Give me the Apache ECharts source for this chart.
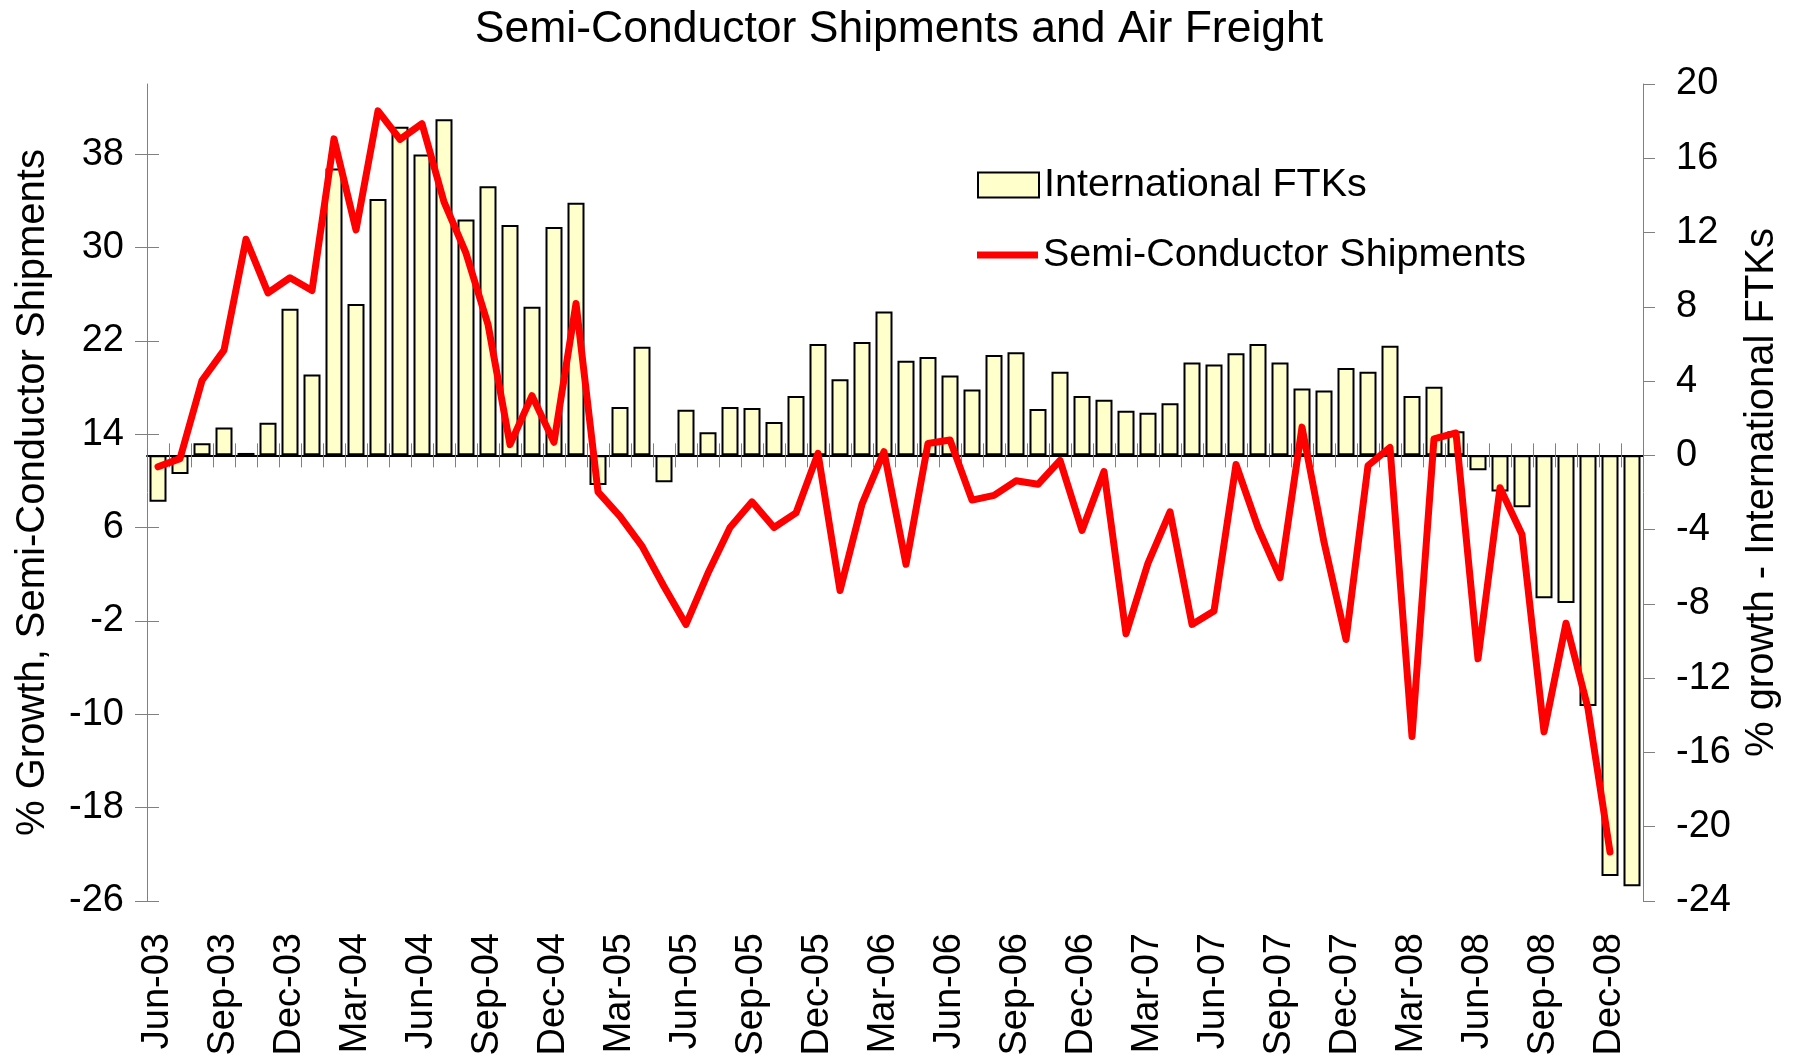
<!DOCTYPE html>
<html>
<head>
<meta charset="utf-8">
<title>Semi-Conductor Shipments and Air Freight</title>
<script src="https://cdn.jsdelivr.net/npm/echarts@6/dist/echarts.min.js"></script>
<style>
    html, body { margin: 0; padding: 0; background: #fff; }
    #chart { width: 1798px; height: 1062px; }
</style>
</head>
<body>
<div id="chart"></div>
<script>
// monthly, Jun-03 .. Jan-09
const months = [
    'Jun-03', 'Jul-03', 'Aug-03', 'Sep-03', 'Oct-03', 'Nov-03', 'Dec-03',
    'Jan-04', 'Feb-04', 'Mar-04', 'Apr-04', 'May-04', 'Jun-04', 'Jul-04', 'Aug-04', 'Sep-04', 'Oct-04', 'Nov-04', 'Dec-04',
    'Jan-05', 'Feb-05', 'Mar-05', 'Apr-05', 'May-05', 'Jun-05', 'Jul-05', 'Aug-05', 'Sep-05', 'Oct-05', 'Nov-05', 'Dec-05',
    'Jan-06', 'Feb-06', 'Mar-06', 'Apr-06', 'May-06', 'Jun-06', 'Jul-06', 'Aug-06', 'Sep-06', 'Oct-06', 'Nov-06', 'Dec-06',
    'Jan-07', 'Feb-07', 'Mar-07', 'Apr-07', 'May-07', 'Jun-07', 'Jul-07', 'Aug-07', 'Sep-07', 'Oct-07', 'Nov-07', 'Dec-07',
    'Jan-08', 'Feb-08', 'Mar-08', 'Apr-08', 'May-08', 'Jun-08', 'Jul-08', 'Aug-08', 'Sep-08', 'Oct-08', 'Nov-08', 'Dec-08',
    'Jan-09'
];

// International FTKs, % growth (right axis)
const ftkGrowth = [
    -2.5, -1.0, 0.65, 1.5, 0.13, 1.75, 7.9,
    4.35, 15.45, 8.15, 13.8, 17.7, 16.2, 18.1, 12.7, 14.5, 12.4, 8.0, 12.3,
    13.6, -1.6, 2.6, 5.85, -1.45, 2.45, 1.25, 2.6, 2.55, 1.8, 3.2, 6.0,
    4.1, 6.1, 7.75, 5.1, 5.3, 4.3, 3.55, 5.4, 5.55, 2.5, 4.5, 3.2,
    3.0, 2.4, 2.3, 2.8, 5.0, 4.9, 5.5, 6.0, 5.0, 3.6, 3.5, 4.7,
    4.5, 5.9, 3.2, 3.7, 1.3, -0.8, -1.95, -2.8, -7.7, -7.95, -13.5, -22.65,
    -23.2
];

// Semi-conductor shipments, % growth (left axis)
const semiGrowth = [
    11.2, 11.9, 18.6, 21.2, 30.7, 26.1, 27.4,
    26.3, 39.3, 31.5, 41.7, 39.25, 40.6, 33.9, 29.5, 23.4, 13.1, 17.3, 13.3,
    25.2, 9.05, 6.95, 4.4, 0.95, -2.3, 2.1, 6.0, 8.2, 6.0, 7.25, 12.35,
    0.6, 8.0, 12.5, 2.85, 13.2, 13.5, 8.35, 8.75, 10.0, 9.7, 11.75, 5.75,
    10.8, -3.1, 2.95, 7.35, -2.3, -1.15, 11.4, 6.0, 1.7, 14.6, 4.75, -3.6,
    11.3, 12.85, -11.9, 13.6, 14.1, -5.25, 9.4, 5.4, -11.5, -2.2, -9.5, -21.8,
    null
];

const leftTicks = [-26, -18, -10, -2, 6, 14, 22, 30, 38];
const rightTicks = [-24, -20, -16, -12, -8, -4, 0, 4, 8, 12, 16, 20];

const FONT = '"Liberation Sans", Arial, sans-serif';
const GREY = '#808080';

const legendText = { fontFamily: FONT, fontSize: 39.5, color: '#000', lineHeight: 40 };

let mychart = echarts.init(document.getElementById('chart'));
mychart.setOption({
    animation: false,
    textStyle: { fontFamily: FONT, color: '#000' },
    title: {
        text: 'Semi-Conductor Shipments and Air Freight',
        left: 'center',
        top: 4,
        padding: [3, 5],
        textStyle: { fontFamily: FONT, fontSize: 44.5, fontWeight: 'normal', color: '#000' }
    },
    // two legends so the bar box and the line swatch can have different heights
    legend: [
        {
            orient: 'vertical',
            left: 972,
            top: 160,
            itemWidth: 61,
            itemHeight: 25,
            icon: 'rect',
            textStyle: legendText,
            data: ['International FTKs']
        },
        {
            orient: 'vertical',
            left: 972,
            top: 230,
            itemWidth: 61,
            itemHeight: 7,
            icon: 'rect',
            textStyle: legendText,
            data: ['Semi-Conductor Shipments']
        }
    ],
    grid: {
        left: 147,
        right: 155,
        top: 84,
        bottom: 161
    },
    xAxis: [
        {
            // labels along the bottom
            type: 'category',
            data: months,
            position: 'bottom',
            axisLine: { show: false, onZero: false },
            axisTick: { show: false },
            axisLabel: {
                interval: 2,
                rotate: 90,
                margin: 32,
                fontFamily: FONT,
                fontSize: 38,
                color: '#000'
            }
        },
        {
            // baseline with ticks going down
            type: 'category',
            data: months,
            position: 'bottom',
            axisLine: { show: true, onZero: true, onZeroAxisIndex: 1, lineStyle: { color: '#000', width: 2 } },
            axisTick: { show: true, interval: 0, length: 12, lineStyle: { color: GREY, width: 1 } },
            axisLabel: { show: false }
        },
        {
            // ticks going up from the baseline
            type: 'category',
            data: months,
            position: 'top',
            axisLine: { show: false, onZero: true, onZeroAxisIndex: 1 },
            axisTick: { show: true, interval: 0, length: 12, lineStyle: { color: GREY, width: 1 } },
            axisLabel: { show: false }
        }
    ],
    yAxis: [
        {
            type: 'value',
            position: 'left',
            min: -26,
            max: 44,
            name: '% Growth, Semi-Conductor Shipments',
            nameLocation: 'middle',
            nameGap: 94,
            nameTextStyle: { fontFamily: FONT, fontSize: 40, color: '#000' },
            axisLine: { show: true, lineStyle: { color: GREY, width: 1 } },
            axisTick: { show: true, length: 12, customValues: leftTicks, lineStyle: { color: GREY, width: 1 } },
            axisLabel: { customValues: leftTicks, margin: 23, fontFamily: FONT, fontSize: 38, color: '#000' },
            splitLine: { show: false }
        },
        {
            type: 'value',
            position: 'right',
            min: -24,
            max: 20,
            interval: 4,
            name: '% growth - International FTKs',
            nameLocation: 'middle',
            nameGap: 97,
            nameTextStyle: { fontFamily: FONT, fontSize: 40, color: '#000' },
            axisLine: { show: true, lineStyle: { color: GREY, width: 1 } },
            axisTick: { show: true, length: 12, customValues: rightTicks, lineStyle: { color: GREY, width: 1 } },
            axisLabel: { customValues: rightTicks, margin: 33, fontFamily: FONT, fontSize: 38, color: '#000' },
            splitLine: { show: false }
        },
        {
            // inner half of the left axis ticks
            type: 'value',
            position: 'left',
            min: -26,
            max: 44,
            axisLine: { show: false },
            axisTick: { show: true, inside: true, length: 12, customValues: leftTicks, lineStyle: { color: GREY, width: 1 } },
            axisLabel: { show: false },
            splitLine: { show: false }
        }
    ],
    series: [
        {
            name: 'International FTKs',
            type: 'bar',
            xAxisIndex: 0,
            yAxisIndex: 1,
            data: ftkGrowth,
            barWidth: 17,
            itemStyle: { color: '#FFFFCC', borderColor: '#000', borderWidth: 2 }
        },
        {
            name: 'Semi-Conductor Shipments',
            type: 'line',
            xAxisIndex: 0,
            yAxisIndex: 0,
            data: semiGrowth,
            symbol: 'none',
            lineStyle: { color: '#FF0000', width: 7, join: 'round', cap: 'round' },
            itemStyle: { color: '#FF0000' }
        }
    ]
});
</script>
</body>
</html>
